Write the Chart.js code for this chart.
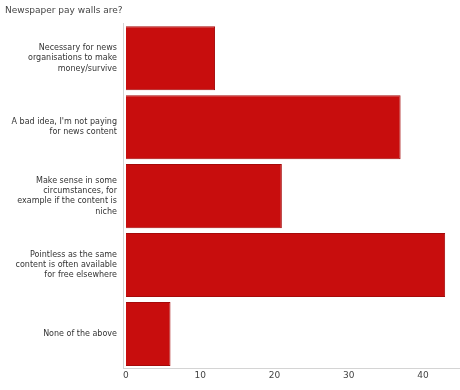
<!DOCTYPE html>
<html>
<head>
<meta charset="utf-8">
<script src="https://cdn.jsdelivr.net/npm/chart.js@4"></script>
<style>
    body { margin: 0; background: #fff; }
</style>
</head>
<body>
<canvas id="chart-paywalls" width="460" height="390"></canvas>
<script>
const categories = [
    ["Necessary for news", "organisations to make", "money/survive"],
    ["A bad idea, I'm not paying", "for news content"],
    ["Make sense in some", "circumstances, for", "example if the content is", "niche"],
    ["Pointless as the same", "content is often available", "for free elsewhere"],
    ["None of the above"],
];
const responses = [12, 37, 21, 43, 6];
const tickValues = [0, 10, 20, 30, 40];

new Chart(document.getElementById("chart-paywalls"), {
    type: "bar",
    data: {
        labels: categories,
        datasets: [
            {
                data: responses,
                backgroundColor: "#c80d0d",
                borderColor: "#a50a0a",
                borderWidth: 1,
                barPercentage: 0.93,
                categoryPercentage: 1,
            },
        ],
    },
    options: {
        indexAxis: "y",
        responsive: false,
        animation: false,
        layout: {
            autoPadding: false,
            padding: { left: 5, right: 0, top: 0, bottom: 0 },
        },
        plugins: {
            legend: { display: false },
            tooltip: { enabled: false },
            title: {
                display: true,
                text: "Newspaper pay walls are?",
                align: "start",
                color: "#444",
                font: { family: "DejaVu Sans", size: 9, weight: "normal" },
                padding: { top: 5, bottom: 8 },
            },
        },
        scales: {
            x: {
                min: -0.4,
                max: 45,
                afterBuildTicks: (axis) => {
                    axis.ticks = tickValues.map((v) => ({ value: v }));
                },
                afterFit: (scale) => {
                    scale.height = 15;
                },
                ticks: {
                    color: "#444",
                    padding: 2,
                    font: { family: "DejaVu Sans", size: 9 },
                },
                grid: { display: false, drawTicks: false },
                border: { color: "#d4d4d4" },
            },
            y: {
                afterFit: (scale) => {
                    scale.width = 118;
                },
                ticks: {
                    color: "#333",
                    padding: 6,
                    font: { family: "DejaVu Sans", size: 8, lineHeight: 1.3 },
                },
                grid: { display: false, drawTicks: false },
                border: { color: "#d4d4d4" },
            },
        },
    },
});
</script>
</body>
</html>
